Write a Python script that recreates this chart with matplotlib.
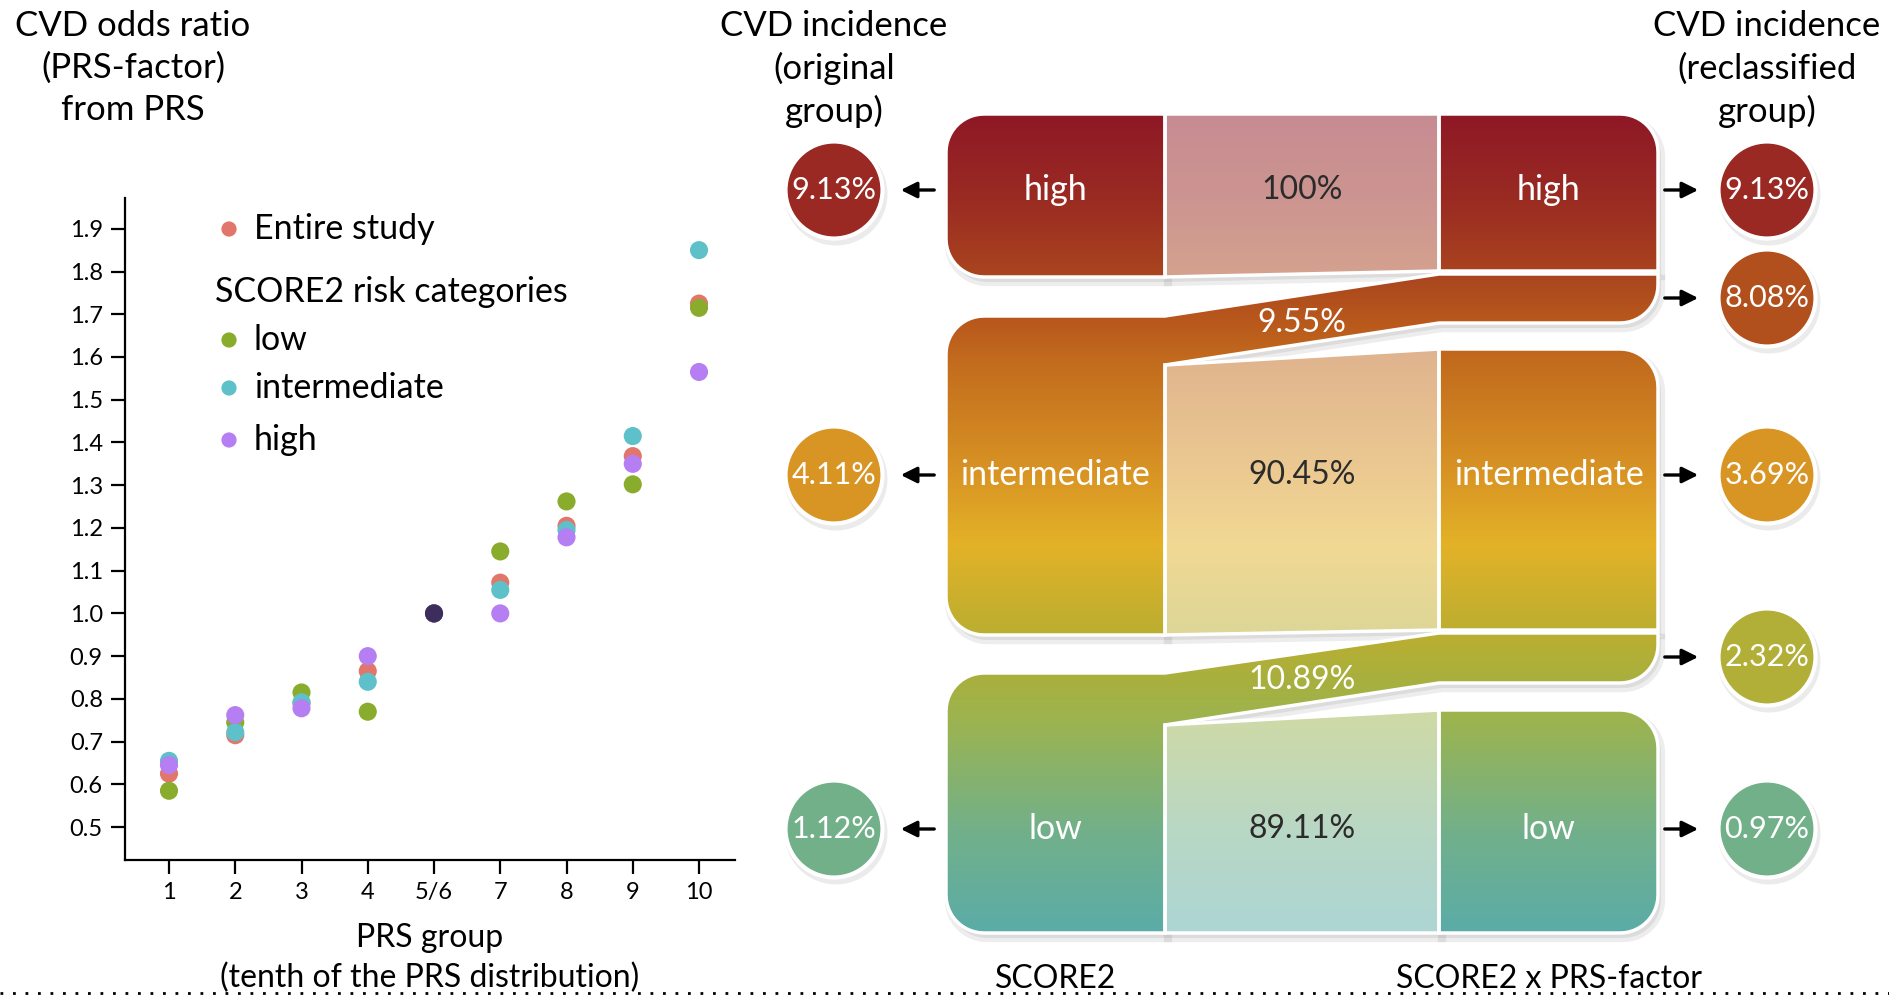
import numpy as np
import matplotlib
matplotlib.use("Agg")
import matplotlib.pyplot as plt
from matplotlib.path import Path
from matplotlib.patches import PathPatch, Circle

plt.rcParams['font.family'] = ['Lato', 'DejaVu Sans']

# ---- data: scatter (odds ratio by PRS group) ----
prs_groups = ["1", "2", "3", "4", "5/6", "7", "8", "9", "10"]
or_entire = [0.625, 0.715, 0.790, 0.865, 1.0, 1.072, 1.205, 1.368, 1.725]
or_low = [0.585, 0.745, 0.815, 0.770, 1.0, 1.145, 1.262, 1.302, 1.715]
or_intermediate = [0.655, 0.722, 0.792, 0.840, 1.0, 1.055, 1.195, 1.415, 1.850]
or_high = [0.645, 0.762, 0.778, 0.900, 1.0, 1.000, 1.178, 1.350, 1.565]
ref_group = "5/6"
ref_or = 1.0

# ---- data: reclassification ----
risk_levels = ["high", "intermediate", "low"]
stay_pct = ["100%", "90.45%", "89.11%"]
moved_up_pct = ["9.55%", "10.89%"]          # intermediate->high, low->intermediate
orig_incidence = ["9.13%", "4.11%", "1.12%"]
recl_incidence = ["9.13%", "8.08%", "3.69%", "2.32%", "0.97%"]

W, H = 1890, 996
fig = plt.figure(figsize=(W / 100, H / 100), dpi=100)

# background axes in pixel units (y downward) for the flow diagram
bg = fig.add_axes([0, 0, 1, 1])
bg.set_xlim(0, W)
bg.set_ylim(H, 0)
bg.axis('off')

# colour gradient down the diagram
stops_y = [114, 200, 270, 320, 360, 475, 545, 630, 680, 720, 830, 935]
stops_c = ['#8e1826', '#9a2b22', '#a8431f', '#b8581c', '#c26b1e', '#d99524',
           '#e3b228', '#bcae30', '#a8b03e', '#9cb450', '#72b08a', '#5aaca9']
rgb = np.array([matplotlib.colors.to_rgb(c) for c in stops_c])
gy = np.arange(100, 946)
grad = np.stack([np.interp(gy, stops_y, rgb[:, k]) for k in range(3)], axis=-1)
grad_light = 0.5 * grad + 0.5


def color_at(y):
    return tuple(np.interp(y, stops_y, rgb[:, k]) for k in range(3))


def arc(cx, cy, r, a0, a1, n=14):
    t = np.radians(np.linspace(a0, a1, n))
    return [(cx + r * np.cos(t_), cy + r * np.sin(t_)) for t_ in t]


def shape(points):
    return Path(points + [points[0]], closed=True)


def box(x0, y0, x1, y1, tl=0, tr=0, br=0, bl=0):
    pts = []
    pts += arc(x0 + tl, y0 + tl, tl, 180, 270) if tl else [(x0, y0)]
    pts += arc(x1 - tr, y0 + tr, tr, 270, 360) if tr else [(x1, y0)]
    pts += arc(x1 - br, y1 - br, br, 0, 90) if br else [(x1, y1)]
    pts += arc(x0 + bl, y1 - bl, bl, 90, 180) if bl else [(x0, y1)]
    return pts


def draw(points, light=False):
    path = shape(points)
    sh = PathPatch(path.transformed(matplotlib.transforms.Affine2D().translate(3, 5)),
                   fc='#000000', ec='#000000', lw=6, alpha=0.07, zorder=1)
    bg.add_patch(sh)
    im = bg.imshow((grad_light if light else grad)[:, None, :],
                   extent=[900, 1700, 946, 100], aspect='auto', zorder=2,
                   interpolation='bilinear')
    clip = PathPatch(path, transform=bg.transData)
    im.set_clip_path(clip)
    bg.add_patch(PathPatch(path, fc='none', ec='white', lw=2.5, zorder=3))


xl0, xl1, xr0, xr1 = 946, 1165, 1439, 1658
r = 38
# left boxes (with the upward bands merged in)
draw(box(xl0, 114, xl1, 277, tl=r, bl=r))
inter = (arc(xl0 + r, 316 + r, r, 180, 270) +
         [(xl1, 316), (xr0, 274), (xr1, 274)] + arc(xr1 - r, 323 - r, r, 0, 90) +
         [(xr0, 323), (xl1, 365), (xl1, 635)] + arc(xl0 + r, 635 - r, r, 90, 180))
draw(inter)
low = (arc(xl0 + r, 673 + r, r, 180, 270) +
       [(xl1, 673), (xr0, 633), (xr1, 633)] + arc(xr1 - r, 683 - r, r, 0, 90) +
       [(xr0, 683), (xl1, 725), (xl1, 933)] + arc(xl0 + r, 933 - r, r, 90, 180))
draw(low)
# right boxes
draw(box(xr0, 114, xr1, 271, tr=r))
draw(box(xr0, 349, xr1, 630, tr=r))
draw(box(xr0, 710, xr1, 933, tr=r, br=r))
# light flows staying in the same group
draw([(xl1, 114), (xr0, 114), (xr0, 271), (xl1, 277)], light=True)
draw([(xl1, 365), (xr0, 349), (xr0, 630), (xl1, 635)], light=True)
draw([(xl1, 725), (xr0, 710), (xr0, 933), (xl1, 933)], light=True)

row_y = [190, 475, 829]
lkw = dict(ha='center', va='center', fontsize=24.5, color='white', zorder=5)
pkw = dict(ha='center', va='center', fontsize=23, zorder=5)
for y, lvl, pct in zip(row_y, risk_levels, stay_pct):
    bg.text((xl0 + xl1) / 2, y, lvl, **lkw)
    bg.text((xr0 + xr1) / 2, y, lvl, **lkw)
    bg.text((xl1 + xr0) / 2, y, pct, color='#2b2b2b', **pkw)
for y, pct in zip([323, 680], moved_up_pct):
    bg.text((xl1 + xr0) / 2, y, pct, color='white', **pkw)

# incidence circles
cl, cr, rad = 834, 1767, 48.5


def bubble(cx, cy, label):
    bg.add_patch(Circle((cx + 2, cy + 4), rad + 3, fc='black', alpha=0.08, zorder=1))
    bg.add_patch(Circle((cx, cy), rad, fc=color_at(cy), ec='white', lw=3, zorder=4))
    bg.text(cx, cy, label, ha='center', va='center', fontsize=22, color='white', zorder=5)


akw = dict(arrowstyle='-|>', color='black', lw=2.4, mutation_scale=24)
for y, lab in zip(row_y, orig_incidence):
    bubble(cl, y, lab)
    bg.annotate('', xy=(898, y), xytext=(937, y), arrowprops=akw)
for y, lab in zip([190, 298, 475, 657, 829], recl_incidence):
    bubble(cr, y, lab)
    bg.annotate('', xy=(1701, y), xytext=(1662, y), arrowprops=akw)

hkw = dict(ha='center', va='center', fontsize=25, color='black', linespacing=1.38)
bg.text(cl, 69, "CVD incidence\n(original\ngroup)", **hkw)
bg.text(cr, 69, "CVD incidence\n(reclassified\ngroup)", **hkw)
bg.text(133, 68, "CVD odds ratio\n(PRS-factor)\nfrom PRS", **hkw)
bg.text((xl0 + xl1) / 2, 979, "SCORE2", ha='center', va='center', fontsize=23)
bg.text((xr0 + xr1) / 2, 979, "SCORE2 x PRS-factor", ha='center', va='center', fontsize=23)
bg.plot([0, W], [993, 993], color='black', lw=2, ls=(0, (1, 3.5)))

# ---- scatter panel ----
ax = fig.add_axes([125 / W, 1 - 860 / H, 610 / W, 662 / H])
ax.set_facecolor('none')
x = np.arange(len(prs_groups)) + 1
series = [(or_entire, '#e2766a'), (or_low, '#8aac2c'),
          (or_intermediate, '#5ec0c8'), (or_high, '#b57ef2')]
for vals, col in series:
    ax.scatter(x, vals, s=170, color=col, edgecolors='none', zorder=3)
ax.scatter([prs_groups.index(ref_group) + 1], [ref_or], s=170, color='#3d2d5c',
           edgecolors='none', zorder=4)
ax.set_xlim(0.336, 9.543)
ax.set_ylim(0.423, 1.972)
ax.set_xticks(x)
ax.set_xticklabels(prs_groups)
ax.set_yticks(np.arange(0.5, 1.95, 0.1))
ax.set_yticklabels([f"{v:.1f}" for v in np.arange(0.5, 1.95, 0.1)])
for s in ['top', 'right']:
    ax.spines[s].set_visible(False)
for s in ['left', 'bottom']:
    ax.spines[s].set_linewidth(1.6)
ax.tick_params(length=10, width=1.6, labelsize=17, pad=6)
ax.set_xlabel("PRS group\n(tenth of the PRS distribution)", fontsize=23, labelpad=14,
              linespacing=1.4)

# legend
legend_rows = [(229, "Entire study", '#e2766a'), (340, "low", '#8aac2c'),
               (388, "intermediate", '#5ec0c8'), (440, "high", '#b57ef2')]
for y, lab, col in legend_rows:
    bg.scatter([229], [y], s=120, color=col, edgecolors='none', zorder=5)
    bg.text(254, y, lab, ha='left', va='center', fontsize=24.5, zorder=5)
bg.text(215, 292, "SCORE2 risk categories", ha='left', va='center', fontsize=24.5, zorder=5)

fig.savefig("out.png", dpi=100)
